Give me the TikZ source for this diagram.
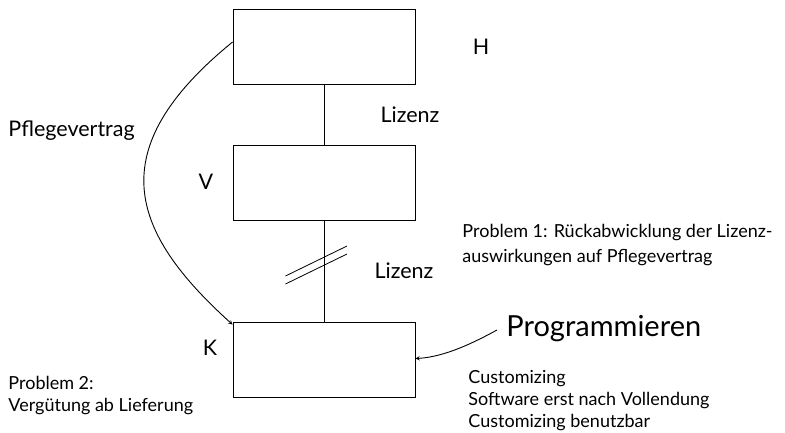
\documentclass[tikz,border=0pt]{standalone}
\usepackage{fontspec}
\setmainfont{Lato}
\usetikzlibrary{positioning}
\tikzset{
  box/.style={draw, minimum width=182pt, minimum height=75pt, inner sep=0pt},
  lbl/.style={inner sep=0pt, font=\fontsize{21.5}{24}\selectfont},
  note/.style={inner sep=0pt, anchor=north west, align=left, font=\fontsize{18}{22}\selectfont},
}
\begin{document}
\begin{tikzpicture}[x=1pt, y=-1pt, line width=0.9pt, >=stealth]
        \useasboundingbox (0,0) rectangle (785,432);
        \node[box] (h) at (324,47) {};
        \node[box] (v) at (324,182.5) {};
        \node[box] (k) at (324,359.5) {};
        \node[lbl] (hl) at (481,47) {H};
        \node[lbl] (vl) at (206,182) {V};
        \node[lbl] (kl) at (210,348) {K};
        \node[lbl] (liz1) at (410,115) {Lizenz};
        \node[lbl] (liz2) at (404,271) {Lizenz};
        \node[lbl, anchor=west] (pflege) at (8,131) {Pflegevertrag};
        \draw (h.south) -- (v.north);
        \draw (v.south) -- (k.north);
        \begin{scope}[line width=0.8pt]
            \draw (285.5,276) -- (347,246);
            \draw (285.5,284) -- (347,254);
        \end{scope}
        \draw[->] ([yshift=5pt]h.west) .. controls (100,150) and (130,232) .. ([yshift=-3pt]k.north west);
        \node[lbl, anchor=west, font=\fontsize{29}{33}\selectfont] (prog) at (506,329) {Programmieren};
        \coordinate (pstart) at ([xshift=-9pt,yshift=-1pt]prog.west);
        \draw[->] (pstart) .. controls (475,342) and (445,357) .. ([yshift=1pt]k.east);
        \node[note, font=\fontsize{18}{24.5}\selectfont] (p1) at (462,224) {Problem 1: Rückabwicklung der Lizenz-\\auswirkungen auf Pflegevertrag};
        \node[note] (cust) at (468,370) {Customizing\\Software erst nach Vollendung\\Customizing benutzbar};
        \node[note] (p2) at (8,376) {Problem 2:\\Vergütung ab Lieferung};
    \end{tikzpicture}
\end{document}
